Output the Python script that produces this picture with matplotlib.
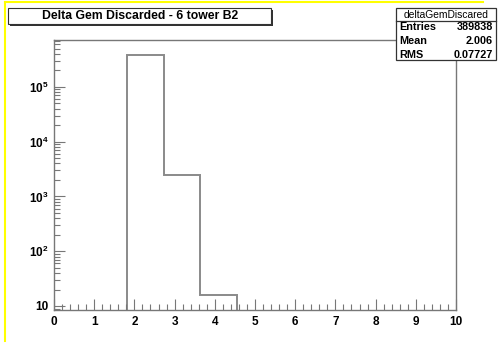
import numpy as np
import matplotlib
matplotlib.use("Agg")
import matplotlib.pyplot as plt
from matplotlib.patches import Rectangle
from matplotlib.lines import Line2D
from matplotlib.ticker import LogLocator, FuncFormatter, MultipleLocator

plt.rcParams['font.family'] = ['Liberation Sans', 'DejaVu Sans']
plt.rcParams['font.weight'] = 'bold'
plt.rcParams['mathtext.fontset'] = 'custom'
plt.rcParams['mathtext.rm'] = 'Liberation Sans:bold'
plt.rcParams['mathtext.bf'] = 'Liberation Sans:bold'
plt.rcParams['mathtext.it'] = 'Liberation Sans:bold'

# histogram data (11 bins between 0 and 10)
binEdges = np.linspace(0, 10, 12)
counts = [0, 0, 387400, 2420, 16, 0, 0, 0, 0, 0, 0]

titleText = "Delta Gem Discarded - 6 tower B2"
statName = "deltaGemDiscared"
statLabels = ["Entries", "Mean", "RMS"]
statValues = ["389838", "2.006", "0.07727"]

W, H = 499, 343
fig = plt.figure(figsize=(W/100, H/100), dpi=100)
fig.patch.set_facecolor("white")

def fx(px):
    return px / W

def fy(py):
    return 1 - py / H

ax = fig.add_axes([fx(54), fy(310), fx(456) - fx(54), fy(40.3) - fy(310)])
ax.set_yscale("log")

# zero bins drawn on the floor, below the visible range
plotVals = np.where(np.array(counts) > 0, counts, 1.0)
ax.stairs(plotVals, binEdges, baseline=1.0, color="#8a8a8a", lw=1.4)

ax.set_xlim(0, 10)
ax.set_ylim(8.45, 7.1e5)

for s in ax.spines.values():
    s.set_color("#777777")
    s.set_linewidth(1.0)

ax.xaxis.set_major_locator(MultipleLocator(1))
ax.xaxis.set_minor_locator(MultipleLocator(0.2))
ax.yaxis.set_major_locator(LogLocator(base=10, numticks=10))
ax.yaxis.set_minor_locator(LogLocator(base=10, subs=np.arange(2, 10), numticks=20))

def ylab(v, pos):
    e = int(round(np.log10(v)))
    if e == 1:
        return "10"
    return r"$10^{%d}$" % e

ax.yaxis.set_major_formatter(FuncFormatter(ylab))

ax.tick_params(axis="x", which="major", direction="in", length=8, width=0.8,
               color="#777777", labelsize=8.5, pad=4, top=False)
ax.tick_params(axis="x", which="minor", direction="in", length=4, width=0.8,
               color="#777777", top=False)
ax.tick_params(axis="y", which="major", direction="in", length=8, width=0.8,
               color="#777777", labelsize=8.5, pad=4, right=False)
ax.tick_params(axis="y", which="minor", direction="in", length=4, width=0.8,
               color="#777777", right=False)
for lab in ax.get_xticklabels() + ax.get_yticklabels():
    lab.set_fontweight("bold")

# yellow frame on left and top
fig.add_artist(Line2D([fx(5), fx(5)], [fy(1.5), fy(341)], color="#ffff00", lw=1.5))
fig.add_artist(Line2D([fx(5), fx(483)], [fy(1.5), fy(1.5)], color="#ffff00", lw=1.5))

# title box with shadow
fig.add_artist(Rectangle((fx(10), fy(25.5)), fx(273) - fx(10), fy(9.5) - fy(25.5),
                         facecolor="#333333", edgecolor="none", zorder=3))
fig.add_artist(Rectangle((fx(8), fy(24)), fx(271) - fx(8), fy(8) - fy(24),
                         facecolor="white", edgecolor="#333333", lw=0.8, zorder=4))
fig.text(fx(140), fy(16), titleText, ha="center", va="center",
         fontsize=8.8, fontweight="bold", zorder=5)

# statistics box
fig.add_artist(Rectangle((fx(396), fy(60)), fx(496) - fx(396), fy(8) - fy(60),
                         facecolor="white", edgecolor="#333333", lw=0.9, zorder=4))
fig.add_artist(Line2D([fx(396), fx(496)], [fy(21), fy(21)], color="#333333", lw=0.9, zorder=5))
fig.text(fx(446), fy(14.5), statName, ha="center", va="center",
         fontsize=7.4, fontweight="normal", zorder=6)
rowY = [27.5, 41, 54.5]
for lab, val, yy in zip(statLabels, statValues, rowY):
    fig.text(fx(399), fy(yy), lab, ha="left", va="center", fontsize=7.8, fontweight="bold", zorder=6)
    fig.text(fx(493), fy(yy), val, ha="right", va="center", fontsize=7.8, fontweight="bold", zorder=6)

fig.savefig("out.png", dpi=100)
